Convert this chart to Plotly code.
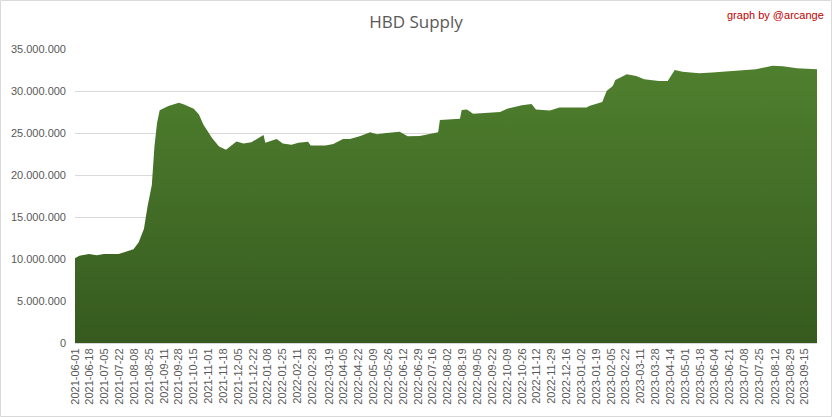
import plotly.graph_objects as go

dates = [
    "2021-06-01", "2021-06-06", "2021-06-17", "2021-06-26", "2021-07-04", "2021-07-21",
    "2021-07-30", "2021-08-07", "2021-08-13", "2021-08-19", "2021-08-23", "2021-08-28",
    "2021-08-31", "2021-09-03", "2021-09-06", "2021-09-16", "2021-09-28", "2021-10-04",
    "2021-10-15", "2021-10-21", "2021-10-26", "2021-11-05", "2021-11-13", "2021-11-21",
    "2021-12-03", "2021-12-11", "2021-12-20", "2022-01-03", "2022-01-05", "2022-01-18",
    "2022-01-25", "2022-02-04", "2022-02-12", "2022-02-23", "2022-02-26", "2022-03-15",
    "2022-03-24", "2022-04-04", "2022-04-12", "2022-04-24", "2022-05-05", "2022-05-13",
    "2022-05-24", "2022-06-08", "2022-06-17", "2022-07-01", "2022-07-15", "2022-07-22",
    "2022-07-24", "2022-08-16", "2022-08-18", "2022-08-24", "2022-08-31", "2022-09-13",
    "2022-10-01", "2022-10-09", "2022-10-26", "2022-11-06", "2022-11-11", "2022-11-27",
    "2022-12-08", "2023-01-08", "2023-01-11", "2023-01-26", "2023-01-31", "2023-02-07",
    "2023-02-10", "2023-02-23", "2023-03-06", "2023-03-15", "2023-04-01", "2023-04-11",
    "2023-04-19", "2023-04-28", "2023-05-17", "2023-06-01", "2023-06-24", "2023-07-21",
    "2023-08-09", "2023-08-21", "2023-09-06", "2023-09-29",
]
supply_millions = [
    10.1, 10.4, 10.6, 10.45, 10.6, 10.6,
    10.9, 11.15, 12.0, 13.6, 16.2, 18.8,
    23.4, 26.2, 27.7, 28.2, 28.6, 28.4,
    27.9, 27.2, 26.0, 24.4, 23.4, 23.0,
    24.0, 23.75, 23.9, 24.75, 23.85, 24.3,
    23.75, 23.6, 23.85, 23.95, 23.5, 23.5,
    23.7, 24.3, 24.3, 24.65, 25.1, 24.85,
    25.0, 25.15, 24.6, 24.65, 24.95, 25.1,
    26.55, 26.7, 27.75, 27.8, 27.3, 27.4,
    27.5, 27.9, 28.3, 28.45, 27.8, 27.67,
    28.05, 28.05, 28.2, 28.7, 30.0, 30.6,
    31.3, 32.0, 31.8, 31.4, 31.2, 31.2,
    32.5, 32.3, 32.1, 32.2, 32.4, 32.6,
    33.0, 32.95, 32.7, 32.6,
]
supply = [v * 1e6 for v in supply_millions]

tick_dates = [
    "2021-06-01", "2021-06-18", "2021-07-05", "2021-07-22", "2021-08-08", "2021-08-25",
    "2021-09-11", "2021-09-28", "2021-10-15", "2021-11-01", "2021-11-18", "2021-12-05",
    "2021-12-22", "2022-01-08", "2022-01-25", "2022-02-11", "2022-02-28", "2022-03-19",
    "2022-04-05", "2022-04-22", "2022-05-09", "2022-05-26", "2022-06-12", "2022-06-29",
    "2022-07-16", "2022-08-02", "2022-08-19", "2022-09-05", "2022-09-22", "2022-10-09",
    "2022-10-26", "2022-11-12", "2022-11-29", "2022-12-16", "2023-01-02", "2023-01-19",
    "2023-02-05", "2023-02-22", "2023-03-11", "2023-03-28", "2023-04-14", "2023-05-01",
    "2023-05-18", "2023-06-04", "2023-06-21", "2023-07-08", "2023-07-25", "2023-08-12",
    "2023-08-29", "2023-09-15",
]
y_ticks = [0, 5e6, 10e6, 15e6, 20e6, 25e6, 30e6, 35e6]

W, H = 832, 417
L, R, T, B = 75, 15, 49, 74
pw, ph = W - L - R, H - T - B

fig = go.Figure()
fig.add_trace(go.Scatter(
    x=dates, y=supply, mode="lines", fill="tozeroy",
    line=dict(width=0, color="#4e7f2d"),
    fillgradient=dict(type="vertical", start=0, stop=33e6,
                      colorscale=[[0, "#365a1f"], [1, "#4f802e"]]),
    hoverinfo="x+y",
))

fig.update_layout(
    width=W, height=H,
    margin=dict(l=L, r=R, t=T, b=B, autoexpand=False),
    paper_bgcolor="white", plot_bgcolor="white",
    separators=",.",
    showlegend=False,
    font=dict(family="Liberation Sans, Arial, sans-serif", color="#595959", size=11),
    title=dict(text="HBD Supply", x=0.5, xref="container", xanchor="center",
               y=1 - 22 / H, yref="container", yanchor="middle",
               font=dict(family="Open Sans, Liberation Sans, sans-serif", size=17, color="#595959")),
    xaxis=dict(
        type="date", range=["2021-06-01", "2023-09-29"],
        tickmode="array", tickvals=tick_dates, ticktext=tick_dates,
        tickangle=-90, showgrid=False, zeroline=False, ticks="",
        showline=True, linecolor="#d9d9d9", automargin=False,
        tickfont=dict(size=11, color="#595959"),
    ),
    yaxis=dict(
        range=[0, 35e6], tickmode="array", tickvals=y_ticks, tickformat=",d",
        showgrid=True, gridcolor="#d9d9d9", gridwidth=1, zeroline=False,
        ticks="", showline=False, ticklabelstandoff=8, automargin=False,
        tickfont=dict(size=11, color="#595959"),
    ),
    annotations=[dict(
        text="graph by @arcange", xref="paper", yref="paper",
        x=(826 - L) / pw, y=(H - B - 15) / ph, xanchor="right", yanchor="middle",
        showarrow=False, font=dict(size=11, color="#c00000"),
    )],
    shapes=[dict(
        type="rect", xref="paper", yref="paper",
        x0=(0.5 - L) / pw, x1=(W - 0.5 - L) / pw,
        y0=(H - B - (H - 0.5)) / ph, y1=(H - B - 0.5) / ph,
        line=dict(color="#d9d9d9", width=1), fillcolor="rgba(0,0,0,0)", layer="below",
    )],
)

fig.write_html("out.html", config={"displayModeBar": False},
               post_script="document.body.style.margin='0';")
